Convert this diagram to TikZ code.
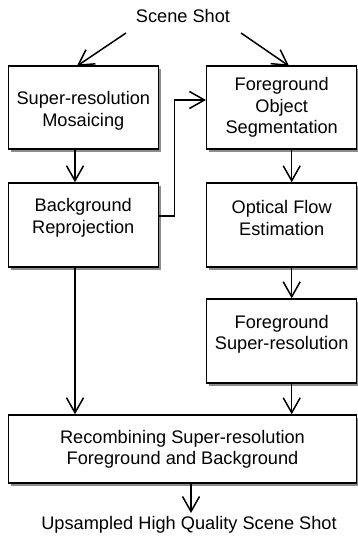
\documentclass[tikz,border=0pt]{standalone}
\usepackage{fontspec}
\setmainfont{Liberation Sans}
\usetikzlibrary{arrows.meta,shadows}
\begin{document}
\begin{tikzpicture}[x=1pt,y=-1pt,
  box/.style={draw=black,fill=white,line width=1.5pt,rectangle,inner sep=0pt,
    drop shadow={shadow xshift=2.6pt,shadow yshift=-2.6pt,fill=black!45,opacity=1}},
  txt/.style={font=\fontsize{18.2}{21.5}\selectfont,align=center,inner sep=0pt},
  conn/.style={line width=1.5pt,-{Straight Barb[length=15pt,width=17pt,line width=1.5pt]}}]
\useasboundingbox (0,0) rectangle (358,540);

% processing blocks
\node[box,minimum width=150pt,minimum height=83pt] (srm) at (83.3,107.5) {};
\node[txt] (srmt) at (83.3,111) {Super-resolution\\Mosaicing};

\node[box,minimum width=150pt,minimum height=83pt] (fos) at (281.7,107.5) {};
\node[txt] (fost) at (281.7,107.5) {Foreground\\Object\\Segmentation};

\node[box,minimum width=150pt,minimum height=84pt] (bgr) at (83.3,225) {};
\node[txt] (bgrt) at (83.3,218) {Background\\Reprojection};

\node[box,minimum width=150pt,minimum height=84pt] (ofe) at (281.7,225) {};
\node[txt] (ofet) at (281.7,218) {Optical Flow\\Estimation};

\node[box,minimum width=150pt,minimum height=84pt] (fsr) at (281.7,341) {};
\node[txt] (fsrt) at (281.7,334.5) {Foreground\\Super-resolution};

\node[box,minimum width=348.4pt,minimum height=68pt] (rec) at (182.5,449) {};
\node[txt] (rect) at (182.5,449.5) {Recombining Super-resolution\\Foreground and Background};

% input and output labels
\node[txt] (in) at (183,16) {Scene Shot};
\node[txt] (out) at (189,525) {Upsampled High Quality Scene Shot};

% helper points
\coordinate (a1) at (126,33);
\coordinate (a2) at (241,33);
\coordinate (k1) at (174.3,216);
\coordinate (k2) at (174.3,100);

% connectors
\draw[conn] (a1) -- (77,66);
\draw[conn] (a2) -- (289,66);
\draw[conn] (srm.south -| 75,0) -- (bgr.north -| 75,0);
\draw[conn] (fos.south -| 291.7,0) -- (ofe.north -| 291.7,0);
\draw[conn] (ofe.south -| 291.7,0) -- (fsr.north -| 291.7,0);
\draw[conn] (fsr.south -| 291.7,0) -- (rec.north -| 291.7,0);
\draw[conn] (bgr.south -| 75,0) -- (rec.north -| 75,0);
\draw[conn] (bgr.east |- k1) -- (k1) -- (k2) -- (fos.west |- k2);
\draw[conn] (rec.south -| 191,0) -- (191,513);
\end{tikzpicture}
\end{document}
